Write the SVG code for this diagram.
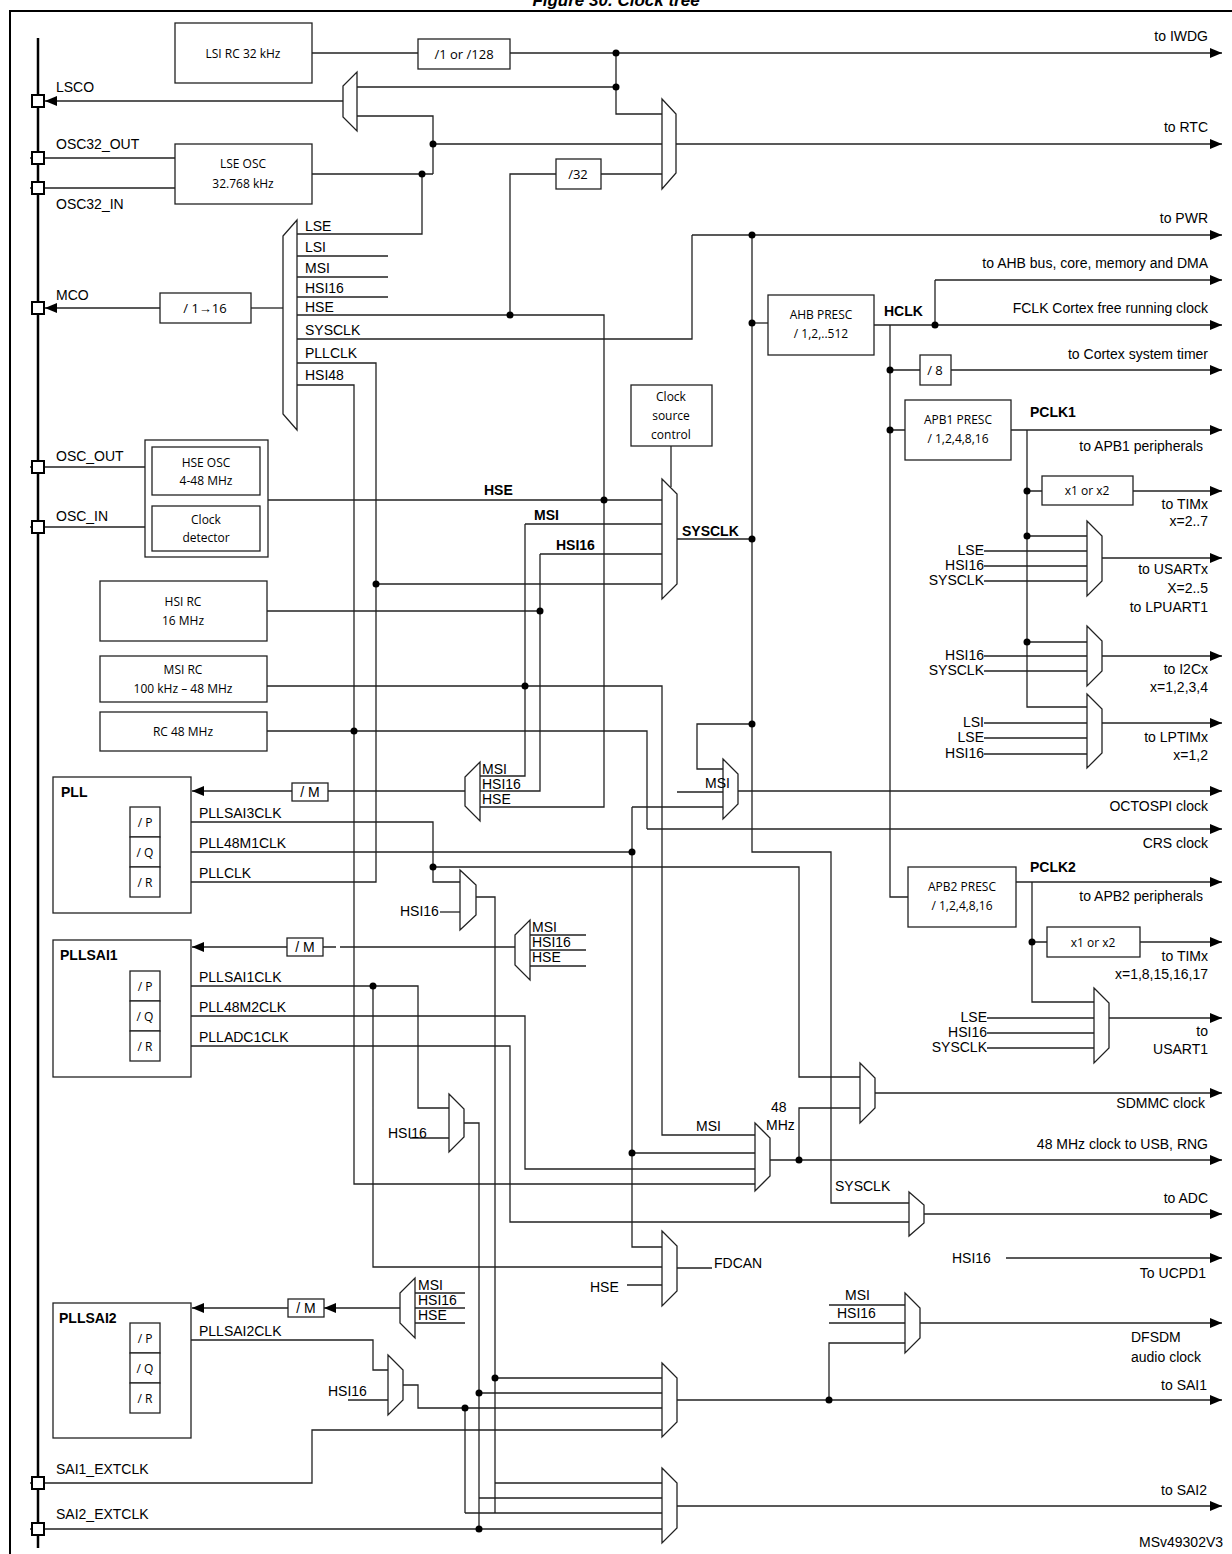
<svg xmlns="http://www.w3.org/2000/svg" width="1232" height="1554" viewBox="0 0 1232 1554">
<defs>
<marker id="ar" viewBox="0 0 12 10" refX="12" refY="5" markerWidth="12" markerHeight="10" markerUnits="userSpaceOnUse" orient="auto"><path d="M0,0L12,5L0,10z" fill="#000"/></marker>
<style>
.w{fill:none;stroke:#222;stroke-width:1.3}
.a{fill:none;stroke:#222;stroke-width:1.3;marker-end:url(#ar)}
.b{fill:#fff;stroke:#222;stroke-width:1.3}
.m{fill:#fff;stroke:#222;stroke-width:1.3}
.d{fill:#000}
.t{font-family:"Liberation Sans",Arial,sans-serif;font-size:14px;fill:#000}
.r{font-family:"Liberation Sans",Arial,sans-serif;font-size:14px;fill:#000;text-anchor:end}
.bo{font-family:"Liberation Sans",Arial,sans-serif;font-size:14px;font-weight:bold;fill:#000}
.c{font-family:"Open Sans","Noto Sans",sans-serif;font-size:12px;fill:#000;text-anchor:middle}
.pin{fill:#fff;stroke:#000;stroke-width:2}
</style>
</defs>
<rect width="1232" height="1554" fill="#fff"/>
<text x="616" y="6" class="bo" style="font-size:17px;font-style:italic" text-anchor="middle">Figure 30. Clock tree</text>
<path d="M10,1554V11H1232" fill="none" stroke="#000" stroke-width="2"/>
<line x1="38" y1="38" x2="38" y2="1548" stroke="#000" stroke-width="2.5"/>

<g id="connectors">
<!-- LSI -->
<path class="w" d="M312,53H418"/><path class="a" d="M510,53H1222"/>
<path class="w" d="M616,53V114H662M616,87H357"/>
<path class="a" d="M343,101H45"/>
<path class="w" d="M357,116H433V174M433,144H662"/><path class="a" d="M676,144H1222"/>
<path class="w" d="M312,174H433M422,174V234H297"/>
<path class="w" d="M30,158H175M30,188H175"/>
<path class="w" d="M601,174H662M556,174H510V315"/>
<!-- MCO mux inputs -->
<path class="w" d="M297,256H388M297,277H388M297,297H388"/>
<path class="w" d="M297,315H604V807H480"/>
<path class="w" d="M297,339H692V235"/><path class="a" d="M692,235H1222"/>
<path class="w" d="M297,363H376V882H160"/>
<path class="w" d="M297,385H354V1184H755"/>
<path class="w" d="M283,308H251"/><path class="a" d="M160,308H45"/>
<!-- HSE OSC -->
<path class="w" d="M30,467H145M30,527H145"/>
<path class="w" d="M268,500H662"/>
<path class="w" d="M525,524H662M525,524V776H480"/>
<path class="w" d="M540,554H662M540,554V791H480"/>
<path class="w" d="M376,584H662"/>
<path class="w" d="M671,446V487"/>
<path class="w" d="M677,539H752"/>
<path class="w" d="M267,611H540"/>
<path class="w" d="M267,686H662V1135H755"/>
<path class="w" d="M267,731H647V829"/><path class="a" d="M647,829H1222"/>
<!-- SYSCLK bus -->
<path class="w" d="M752,235V852H831V1203H909"/>
<path class="w" d="M752,323H768"/>
<path class="w" d="M752,724H697V769H723M677,792H723"/>
<path class="a" d="M738,791H1222"/>
<!-- PLL -->
<path class="w" d="M465,791H328"/><path class="a" d="M292,791H192"/>
<path class="w" d="M69,822H115V882H130M115,852H130M115,822H130"/>
<path class="w" d="M160,822H433V882H460M433,867H799V1077H860"/>
<path class="w" d="M160,852H632M632,807H723M632,807V1247H662M632,1153H755"/>
<path class="w" d="M476,897H495V1513"/>
<path class="w" d="M440,912H460"/>
<!-- PLLSAI1 -->
<path class="w" d="M515,947H340M336,947H323"/><path class="a" d="M287,947H192"/>
<path class="w" d="M530,935H586M530,950H586M530,966H586"/>
<path class="w" d="M69,986H115V1046H130M115,1016H130M115,986H130"/>
<path class="w" d="M160,986H418V1108H449M373,986V1267H662"/>
<path class="w" d="M160,1016H525V1169H755"/>
<path class="w" d="M160,1046H510V1222H909"/>
<path class="w" d="M410,1138H449"/>
<path class="w" d="M464,1123H479V1529"/>
<path class="a" d="M770,1160H1222"/>
<path class="w" d="M799,1160V1108H860"/>
<path class="a" d="M875,1093H1222"/>
<path class="a" d="M924,1214H1222"/>
<path class="w" d="M627,1285H662M677,1268H712"/>
<path class="a" d="M1006,1258H1222"/>
<!-- PLLSAI2 -->
<path class="a" d="M400,1308H324"/><path class="a" d="M288,1308H192"/>
<path class="w" d="M415,1293H465M415,1308H465M415,1323H465"/>
<path class="w" d="M69,1340H115V1400H130M115,1370H130M115,1340H130"/>
<path class="w" d="M160,1340H373V1370H388M348,1400H388"/>
<path class="w" d="M403,1385H418V1408H662M465,1408V1513"/>
<path class="w" d="M495,1378H662M479,1393H662M30,1483H312V1430H662"/>
<path class="a" d="M677,1400H1222"/>
<path class="w" d="M829,1400V1343H905M829,1305H905M829,1323H905"/>
<path class="a" d="M920,1323H1222"/>
<path class="w" d="M495,1483H662M479,1498H662M465,1513H662M30,1529H662"/>
<path class="a" d="M677,1506H1222"/>
<!-- right side -->
<path class="a" d="M874,325H1222"/>
<path class="w" d="M935,325V280"/><path class="a" d="M935,280H1222"/>
<path class="w" d="M890,325V897H908M890,370H920M890,430H905"/>
<path class="a" d="M951,370H1222"/>
<path class="a" d="M1011,430H1222"/>
<path class="w" d="M1027,430V707H1087M1027,491H1042M1027,536H1087M1027,642H1087"/>
<path class="a" d="M1133,491H1222"/>
<path class="w" d="M984,551H1087M984,566H1087M984,581H1087M984,656H1087M984,671H1087M984,723H1087M984,738H1087M984,754H1087"/>
<path class="a" d="M1102,558H1222"/><path class="a" d="M1102,656H1222"/><path class="a" d="M1102,723H1222"/>
<path class="a" d="M1016,882H1222"/>
<path class="w" d="M1032,882V1002H1094M1032,942H1047"/>
<path class="a" d="M1140,942H1222"/>
<path class="w" d="M987,1018H1094M987,1033H1094M987,1048H1094"/>
<path class="a" d="M1109,1018H1222"/>
</g>

<g id="dots" class="d">
<circle cx="616" cy="53" r="3.5"/><circle cx="616" cy="87" r="3.5"/><circle cx="433" cy="144" r="3.5"/><circle cx="422" cy="174" r="3.5"/>
<circle cx="510" cy="315" r="3.5"/><circle cx="604" cy="500" r="3.5"/><circle cx="376" cy="584" r="3.5"/><circle cx="540" cy="611" r="3.5"/>
<circle cx="525" cy="686" r="3.5"/><circle cx="354" cy="731" r="3.5"/><circle cx="752" cy="235" r="3.5"/><circle cx="752" cy="323" r="3.5"/>
<circle cx="752" cy="539" r="3.5"/><circle cx="752" cy="724" r="3.5"/><circle cx="632" cy="852" r="3.5"/><circle cx="433" cy="867" r="3.5"/>
<circle cx="373" cy="986" r="3.5"/><circle cx="632" cy="1153" r="3.5"/><circle cx="799" cy="1160" r="3.5"/>
<circle cx="495" cy="1378" r="3.5"/><circle cx="479" cy="1393" r="3.5"/><circle cx="465" cy="1408" r="3.5"/><circle cx="479" cy="1529" r="3.5"/><circle cx="829" cy="1400" r="3.5"/>
<circle cx="935" cy="325" r="3.5"/><circle cx="890" cy="370" r="3.5"/><circle cx="890" cy="430" r="3.5"/>
<circle cx="1027" cy="491" r="3.5"/><circle cx="1027" cy="536" r="3.5"/><circle cx="1027" cy="642" r="3.5"/><circle cx="1032" cy="942" r="3.5"/>
</g>

<g id="pins">
<rect class="pin" x="32" y="95" width="12" height="12"/><rect class="pin" x="32" y="152" width="12" height="12"/><rect class="pin" x="32" y="182" width="12" height="12"/>
<rect class="pin" x="32" y="302" width="12" height="12"/><rect class="pin" x="32" y="461" width="12" height="12"/><rect class="pin" x="32" y="521" width="12" height="12"/>
<rect class="pin" x="32" y="1477" width="12" height="12"/><rect class="pin" x="32" y="1523" width="12" height="12"/>
<text class="t" x="56" y="92">LSCO</text><text class="t" x="56" y="149">OSC32_OUT</text><text class="t" x="56" y="209">OSC32_IN</text>
<text class="t" x="56" y="300">MCO</text><text class="t" x="56" y="461">OSC_OUT</text><text class="t" x="56" y="521">OSC_IN</text>
<text class="t" x="56" y="1474">SAI1_EXTCLK</text><text class="t" x="56" y="1519">SAI2_EXTCLK</text>
</g>

<g id="lsi"><rect class="b" x="175" y="23" width="137" height="60"/><text class="c" x="243" y="58">LSI RC 32 kHz</text></g>
<g id="div128"><rect class="b" x="418" y="39" width="92" height="30"/><text class="c" x="464" y="59" style="font-size:13px">/1 or /128</text></g>
<g id="lse"><rect class="b" x="175" y="144" width="137" height="60"/><text class="c" x="243" y="168">LSE OSC</text><text class="c" x="243" y="188">32.768 kHz</text></g>
<g id="div32"><rect class="b" x="556" y="159" width="45" height="30"/><text class="c" x="578" y="179" style="font-size:13px">/32</text></g>
<g id="lscomux"><polygon class="m" points="357,72 357,131 343,117 343,86"/></g>
<g id="rtcmux"><polygon class="m" points="662,99 676,114 676,173 662,189"/></g>
<g id="mcomux"><polygon class="m" points="297,220 297,430 283,414 283,236"/>
<text class="t" x="305" y="231">LSE</text><text class="t" x="305" y="252">LSI</text><text class="t" x="305" y="273">MSI</text><text class="t" x="305" y="293">HSI16</text><text class="t" x="305" y="312">HSE</text><text class="t" x="305" y="335">SYSCLK</text><text class="t" x="305" y="358">PLLCLK</text><text class="t" x="305" y="380">HSI48</text></g>
<g id="mcodiv"><rect class="b" x="160" y="293" width="91" height="30"/><text class="c" x="205" y="313" style="font-size:13px">/ 1→16</text></g>
<g id="hse"><rect class="b" x="145" y="440" width="123" height="117"/><rect class="b" x="152" y="447" width="108" height="48"/><text class="c" x="206" y="467">HSE OSC</text><text class="c" x="206" y="485">4-48 MHz</text>
<rect class="b" x="152" y="506" width="108" height="45"/><text class="c" x="206" y="524">Clock</text><text class="c" x="206" y="542">detector</text></g>
<g id="csc"><rect class="b" x="631" y="385" width="81" height="61"/><text class="c" x="671" y="401">Clock</text><text class="c" x="671" y="420">source</text><text class="c" x="671" y="439">control</text></g>
<g id="sysmux"><polygon class="m" points="662,479 677,494 677,584 662,599"/>
<text class="bo" x="484" y="495">HSE</text><text class="bo" x="534" y="520">MSI</text><text class="bo" x="556" y="550">HSI16</text><text class="bo" x="682" y="536">SYSCLK</text></g>
<g id="hsirc"><rect class="b" x="100" y="581" width="167" height="60"/><text class="c" x="183" y="606">HSI RC</text><text class="c" x="183" y="625">16 MHz</text></g>
<g id="msirc"><rect class="b" x="100" y="656" width="167" height="46"/><text class="c" x="183" y="674">MSI RC</text><text class="c" x="183" y="693">100 kHz – 48 MHz</text></g>
<g id="rc48"><rect class="b" x="100" y="712" width="167" height="39"/><text class="c" x="183" y="736">RC 48 MHz</text></g>

<g id="pll"><rect class="b" x="53" y="777" width="138" height="136"/><text class="bo" x="61" y="797">PLL</text>
<rect class="b" x="130" y="807" width="30" height="30"/><rect class="b" x="130" y="837" width="30" height="30"/><rect class="b" x="130" y="867" width="30" height="30"/>
<text class="c" x="145" y="827">/ P</text><text class="c" x="145" y="857">/ Q</text><text class="c" x="145" y="887">/ R</text>
<text class="t" x="199" y="818">PLLSAI3CLK</text><text class="t" x="199" y="848">PLL48M1CLK</text><text class="t" x="199" y="878">PLLCLK</text></g>
<g id="pllm"><rect class="b" x="292" y="783" width="36" height="18"/><text class="t" x="310" y="797" text-anchor="middle">/ M</text></g>
<g id="pllmux"><polygon class="m" points="480,762 480,821 465,806 465,777"/><text class="t" x="482" y="774">MSI</text><text class="t" x="482" y="789">HSI16</text><text class="t" x="482" y="804">HSE</text></g>
<g id="sai3mux"><polygon class="m" points="460,870 476,885 476,915 460,930"/><text class="t" x="400" y="916">HSI16</text></g>

<g id="pllsai1"><rect class="b" x="53" y="940" width="138" height="137"/><text class="bo" x="60" y="960">PLLSAI1</text>
<rect class="b" x="130" y="971" width="30" height="30"/><rect class="b" x="130" y="1001" width="30" height="30"/><rect class="b" x="130" y="1031" width="30" height="30"/>
<text class="c" x="145" y="991">/ P</text><text class="c" x="145" y="1021">/ Q</text><text class="c" x="145" y="1051">/ R</text>
<text class="t" x="199" y="982">PLLSAI1CLK</text><text class="t" x="199" y="1012">PLL48M2CLK</text><text class="t" x="199" y="1042">PLLADC1CLK</text></g>
<g id="pllsai1m"><rect class="b" x="287" y="938" width="36" height="18"/><text class="t" x="305" y="952" text-anchor="middle">/ M</text></g>
<g id="pllsai1mux"><polygon class="m" points="530,920 530,980 515,965 515,935"/><text class="t" x="532" y="932">MSI</text><text class="t" x="532" y="947">HSI16</text><text class="t" x="532" y="962">HSE</text></g>
<g id="sai1pmux"><polygon class="m" points="449,1094 464,1109 464,1137 449,1152"/><text class="t" x="388" y="1138">HSI16</text></g>

<g id="octomux"><polygon class="m" points="723,759 738,774 738,804 723,819"/><text class="t" x="705" y="788">MSI</text></g>
<g id="mux48"><polygon class="m" points="755,1123 770,1138 770,1176 755,1191"/><text class="t" x="696" y="1131">MSI</text><text class="t" x="771" y="1112">48</text><text class="t" x="766" y="1130">MHz</text></g>
<g id="sdmmcmux"><polygon class="m" points="860,1063 875,1078 875,1108 860,1123"/></g>
<g id="adcmux"><polygon class="m" points="909,1192 924,1205 924,1223 909,1236"/><text class="t" x="835" y="1191">SYSCLK</text></g>
<g id="fdcanmux"><polygon class="m" points="662,1231 677,1246 677,1291 662,1306"/><text class="t" x="714" y="1268">FDCAN</text><text class="t" x="590" y="1292">HSE</text></g>

<g id="pllsai2"><rect class="b" x="53" y="1303" width="138" height="135"/><text class="bo" x="59" y="1323">PLLSAI2</text>
<rect class="b" x="130" y="1323" width="30" height="30"/><rect class="b" x="130" y="1353" width="30" height="30"/><rect class="b" x="130" y="1383" width="30" height="30"/>
<text class="c" x="145" y="1343">/ P</text><text class="c" x="145" y="1373">/ Q</text><text class="c" x="145" y="1403">/ R</text>
<text class="t" x="199" y="1336">PLLSAI2CLK</text></g>
<g id="pllsai2m"><rect class="b" x="288" y="1299" width="36" height="18"/><text class="t" x="306" y="1313" text-anchor="middle">/ M</text></g>
<g id="pllsai2mux"><polygon class="m" points="415,1278 415,1338 400,1323 400,1293"/><text class="t" x="418" y="1290">MSI</text><text class="t" x="418" y="1305">HSI16</text><text class="t" x="418" y="1320">HSE</text></g>
<g id="sai2pmux"><polygon class="m" points="388,1355 403,1370 403,1400 388,1415"/><text class="t" x="328" y="1396">HSI16</text></g>
<g id="sai1mux"><polygon class="m" points="662,1363 677,1378 677,1422 662,1437"/></g>
<g id="sai2mux"><polygon class="m" points="662,1468 677,1483 677,1528 662,1543"/></g>
<g id="dfsdmmux"><polygon class="m" points="905,1293 920,1308 920,1338 905,1353"/><text class="t" x="845" y="1300">MSI</text><text class="t" x="837" y="1318">HSI16</text></g>

<g id="ahb"><rect class="b" x="768" y="295" width="106" height="60"/><text class="c" x="821" y="319">AHB PRESC</text><text class="c" x="821" y="338">/ 1,2,..512</text><text class="bo" x="884" y="316">HCLK</text></g>
<g id="div8"><rect class="b" x="920" y="355" width="31" height="30"/><text class="c" x="935" y="375" style="font-size:13px">/ 8</text></g>
<g id="apb1"><rect class="b" x="905" y="400" width="106" height="60"/><text class="c" x="958" y="424">APB1 PRESC</text><text class="c" x="958" y="443">/ 1,2,4,8,16</text><text class="bo" x="1030" y="417">PCLK1</text></g>
<g id="tim1x"><rect class="b" x="1042" y="476" width="91" height="29"/><text class="c" x="1087" y="495">x1 or x2</text></g>
<g id="usartmux"><polygon class="m" points="1087,521 1102,536 1102,581 1087,596"/></g>
<g id="i2cmux"><polygon class="m" points="1087,626 1102,641 1102,671 1087,686"/></g>
<g id="lptimmux"><polygon class="m" points="1087,694 1102,709 1102,753 1087,768"/></g>
<g id="apb2"><rect class="b" x="908" y="867" width="108" height="60"/><text class="c" x="962" y="891">APB2 PRESC</text><text class="c" x="962" y="910">/ 1,2,4,8,16</text><text class="bo" x="1030" y="872">PCLK2</text></g>
<g id="tim2x"><rect class="b" x="1047" y="927" width="93" height="30"/><text class="c" x="1093" y="947">x1 or x2</text></g>
<g id="usart1mux"><polygon class="m" points="1094,988 1109,1003 1109,1048 1094,1063"/></g>

<g id="labels">
<text class="r" x="1208" y="41">to IWDG</text><text class="r" x="1208" y="132">to RTC</text><text class="r" x="1208" y="223">to PWR</text>
<text class="r" x="1208" y="268">to AHB bus, core, memory and DMA</text><text class="r" x="1208" y="313">FCLK Cortex free running clock</text>
<text class="r" x="1208" y="359">to Cortex system timer</text><text class="r" x="1203" y="451">to APB1 peripherals</text>
<text class="r" x="1208" y="509">to TIMx</text><text class="r" x="1208" y="526">x=2..7</text>
<text class="r" x="984" y="555">LSE</text><text class="r" x="984" y="570">HSI16</text><text class="r" x="984" y="585">SYSCLK</text>
<text class="r" x="1208" y="574">to USARTx</text><text class="r" x="1208" y="593">X=2..5</text><text class="r" x="1208" y="612">to LPUART1</text>
<text class="r" x="984" y="660">HSI16</text><text class="r" x="984" y="675">SYSCLK</text>
<text class="r" x="1208" y="674">to I2Cx</text><text class="r" x="1208" y="692">x=1,2,3,4</text>
<text class="r" x="984" y="727">LSI</text><text class="r" x="984" y="742">LSE</text><text class="r" x="984" y="758">HSI16</text>
<text class="r" x="1208" y="742">to LPTIMx</text><text class="r" x="1208" y="760">x=1,2</text>
<text class="r" x="1208" y="811">OCTOSPI clock</text><text class="r" x="1208" y="848">CRS clock</text>
<text class="r" x="1203" y="901">to APB2 peripherals</text><text class="r" x="1208" y="961">to TIMx</text><text class="r" x="1208" y="979">x=1,8,15,16,17</text>
<text class="r" x="987" y="1022">LSE</text><text class="r" x="987" y="1037">HSI16</text><text class="r" x="987" y="1052">SYSCLK</text>
<text class="r" x="1208" y="1036">to</text><text class="r" x="1208" y="1054">USART1</text>
<text class="r" x="1205" y="1108">SDMMC clock</text><text class="r" x="1208" y="1149">48 MHz clock to USB, RNG</text>
<text class="r" x="1208" y="1203">to ADC</text>
<text class="t" x="952" y="1263">HSI16</text><text class="r" x="1206" y="1278">To UCPD1</text>
<text class="t" x="1131" y="1342">DFSDM</text><text class="t" x="1131" y="1362">audio clock</text>
<text class="r" x="1207" y="1390">to SAI1</text><text class="r" x="1207" y="1495">to SAI2</text>
<text class="t" x="1139" y="1547">MSv49302V3</text>
</g>
</svg>
